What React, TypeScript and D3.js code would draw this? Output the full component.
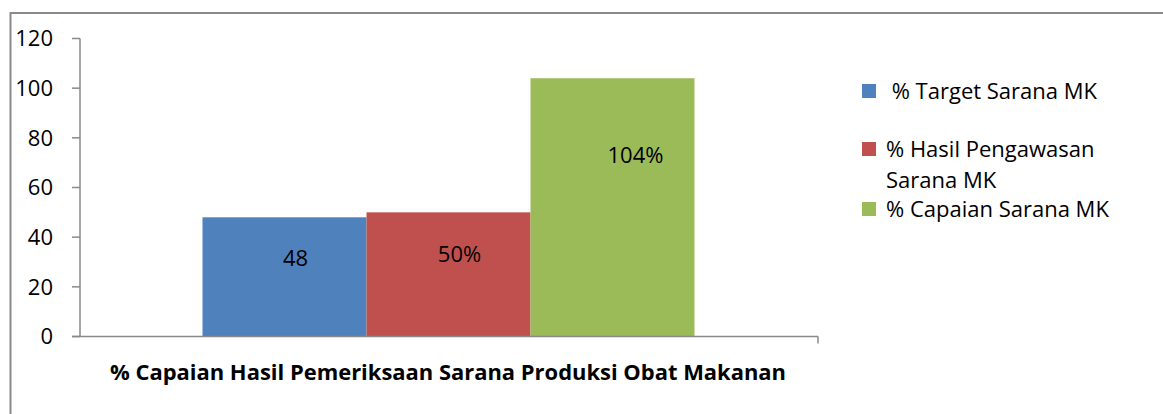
import React from "react";
import * as d3 from "d3";

const categories = ["% Capaian Hasil Pemeriksaan Sarana Produksi Obat Makanan"];
const seriesNames = ["% Target Sarana MK", "% Hasil Pengawasan Sarana MK", "% Capaian Sarana MK"];
const legendLines = [[" % Target Sarana MK"], ["% Hasil Pengawasan", "Sarana MK"], ["% Capaian Sarana MK"]];
const seriesValues = [48, 50, 104];
const dataLabels = ["48", "50%", "104%"];
const labelAt = [31.5, 33, 73];
const colors = ["#4f81bd", "#c0504d", "#9bbb59"];
const yTicks = [0, 20, 40, 60, 80, 100, 120];

const W = 1163;
const H = 414;
const FONT = "'Open Sans', Lato, sans-serif";
const FS = 22;

export default function App() {
  const y = d3.scaleLinear().domain([0, 120]).range([336.5, 38.5]);
  const x0 = d3.scaleBand().domain(categories).range([80, 818]);
  const groupW = 492;
  const gx = 80 + (738 - groupW) / 2 - 0.5;
  const bx = d3.scaleBand().domain(seriesNames).range([gx, gx + groupW]);

  return (
    <svg width={W} height={H} style={{ position: "absolute", left: 0, top: 0, background: "#fff" }} fontFamily={FONT}>
      <rect x={0} y={0} width={W} height={H} fill="#fff" />
      <line x1={10.5} y1={13} x2={W} y2={13} stroke="#898989" strokeWidth={2} />
      <line x1={10.5} y1={12} x2={10.5} y2={H} stroke="#898989" strokeWidth={2} />

      {seriesNames.map((s, i) => (
        <rect key={s} x={bx(s)} y={y(seriesValues[i])} width={bx.bandwidth()} height={y(0) - y(seriesValues[i])} fill={colors[i]} />
      ))}

      <line x1={80} y1={y(120)} x2={80} y2={y(0)} stroke="#888" strokeWidth={1.5} />
      {yTicks.map((t) => (
        <g key={t}>
          <line x1={72} x2={80} y1={y(t)} y2={y(t)} stroke="#888" strokeWidth={1.5} />
          <text x={53} y={y(t)} dy="0.36em" textAnchor="end" fontSize={FS} fill="#000">{t}</text>
        </g>
      ))}
      <line x1={72} x2={818} y1={y(0)} y2={y(0)} stroke="#888" strokeWidth={1.5} />
      <line x1={818} x2={818} y1={y(0)} y2={y(0) + 7} stroke="#888" strokeWidth={1.5} />
      <text x={x0(categories[0])! + x0.bandwidth() / 2 - 1} y={372} dy="0.36em" textAnchor="middle" fontSize={FS} fontWeight="bold" fill="#000" textLength={676} lengthAdjust="spacingAndGlyphs">{categories[0]}</text>

      {seriesNames.map((s, i) => (
        <text key={s} x={bx(s)! + bx.bandwidth() / 2 + (i === 2 ? 23 : 11)} y={y(labelAt[i])} dy="0.36em" textAnchor="middle" fontSize={FS} fill="#000">{dataLabels[i]}</text>
      ))}

      {legendLines.map((lines, i) => {
        const ly = [91, 149, 209][i];
        return (
          <g key={i}>
            <rect x={862} y={ly - 7} width={14} height={14} fill={colors[i]} />
            {lines.map((ln, j) => (
              <text key={j} x={886} y={ly + j * 31} dy="0.36em" fontSize={FS} fill="#000" style={{ whiteSpace: "pre" }}>{ln}</text>
            ))}
          </g>
        );
      })}
    </svg>
  );
}
